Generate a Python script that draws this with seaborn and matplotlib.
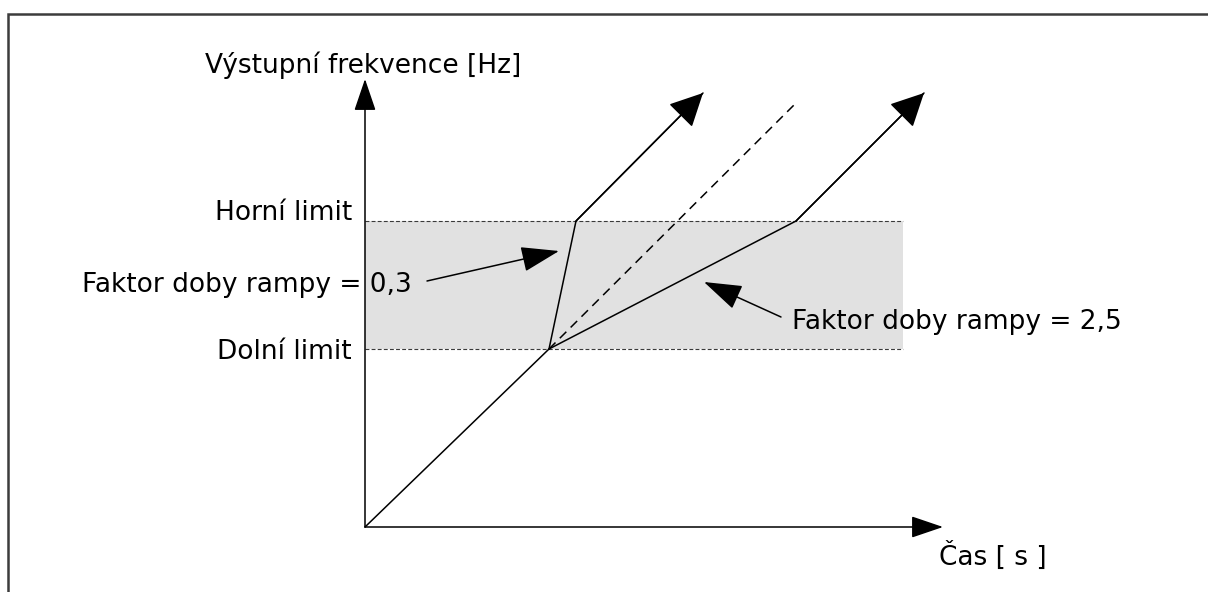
import pandas as pd
import matplotlib
matplotlib.use("Agg")
import matplotlib.pyplot as plt
import seaborn as sns
from matplotlib.patches import Rectangle

# ------------------------------------------------------------------
# Data (time / frequency in arbitrary diagram units)
# ------------------------------------------------------------------
dolni_limit = 17.8
horni_limit = 30.6
pasmo_konec = 53.8          # end of grey band on time axis
osa_cas_max = 57.8          # x axis arrow tip
osa_frekv_max = 44.8        # y axis arrow tip

zaklad_t = [0.0, 18.4]      # common ramp up to lower limit
zaklad_f = [0.0, 17.8]
nominal_t = [18.4, 43.1]    # dashed nominal ramp
nominal_f = [17.8, 42.4]
rychla_t = [18.4, 21.1, 33.8]   # ramp factor 0.3
rychla_f = [17.8, 30.6, 43.4]
pomala_t = [18.4, 43.1, 55.9]   # ramp factor 2.5
pomala_f = [17.8, 30.6, 43.4]

popisky_limitu = ["Horní limit", "Dolní limit"]
popisky_faktoru = ["Faktor doby rampy = 0,3", "Faktor doby rampy = 2,5"]
popisek_y = "Výstupní frekvence [Hz]"
popisek_x = "Čas [ s ]"

# ------------------------------------------------------------------
sns.set_theme(style="white")
plt.rcParams["font.family"] = ["DejaVu Sans"]
plt.rcParams["text.color"] = "black"
FS = 19
LW = 1.1

fig = plt.figure(figsize=(12.08, 5.92), dpi=100)
ax = fig.add_axes([0, 0, 1, 1])
ax.set_xlim(-36.5, 84.3)
ax.set_ylim(-6.5, 52.7)
ax.axis("off")

# grey band between limits + dotted limit lines
ax.fill_between([0, pasmo_konec], dolni_limit, horni_limit,
                color="#e1e1e1", lw=0, zorder=0)
for lim in (dolni_limit, horni_limit):
    ax.plot([0, pasmo_konec], [lim, lim], color="#3a3a3a",
            lw=0.8, ls=(0, (3.5, 2)), zorder=1)

# ramps
df_zaklad = pd.DataFrame({"t": zaklad_t, "f": zaklad_f})
df_nominal = pd.DataFrame({"t": nominal_t, "f": nominal_f})
df_rychla = pd.DataFrame({"t": rychla_t, "f": rychla_f})
df_pomala = pd.DataFrame({"t": pomala_t, "f": pomala_f})

sns.lineplot(data=df_zaklad, x="t", y="f", sort=False, estimator=None,
             color="black", lw=LW, ax=ax)
sns.lineplot(data=df_nominal, x="t", y="f", sort=False, estimator=None,
             color="black", lw=LW, ax=ax, linestyle=(0, (6, 4)))
sns.lineplot(data=df_rychla, x="t", y="f", sort=False, estimator=None,
             color="black", lw=LW, ax=ax)
sns.lineplot(data=df_pomala, x="t", y="f", sort=False, estimator=None,
             color="black", lw=LW, ax=ax)

# arrow heads on the ramps
hlava = dict(arrowstyle="-|>,head_length=21,head_width=10.5",
             mutation_scale=1, color="black", lw=LW,
             shrinkA=0, shrinkB=0)
for tt, ff in ((rychla_t, rychla_f), (pomala_t, pomala_f)):
    ax.annotate("", xy=(tt[-1], ff[-1]), xytext=(tt[-2], ff[-2]),
                arrowprops=hlava)

# axes with arrows
osa = dict(arrowstyle="-|>,head_length=20,head_width=6.8",
           mutation_scale=1, color="black", lw=LW, shrinkA=0, shrinkB=0)
ax.annotate("", xy=(osa_cas_max, 0), xytext=(0, 0), arrowprops=osa)
ax.annotate("", xy=(0, osa_frekv_max), xytext=(0, 0), arrowprops=osa)

# texts
ax.text(-16.0, 45.4, popisek_y, fontsize=FS, ha="left", va="baseline")
ax.text(57.4, -3.8, popisek_x, fontsize=FS, ha="left", va="baseline")
ax.text(-1.3, 30.7, popisky_limitu[0], fontsize=FS, ha="right", va="baseline")
ax.text(-1.3, 16.8, popisky_limitu[1], fontsize=FS, ha="right", va="baseline")
ax.text(4.7, 23.5, popisky_faktoru[0], fontsize=FS, ha="right", va="baseline")
ax.text(42.7, 19.8, popisky_faktoru[1], fontsize=FS, ha="left", va="baseline")

# annotation arrows
ukazatel = dict(arrowstyle="-|>,head_length=24,head_width=8",
                mutation_scale=1, color="black", lw=LW, shrinkA=0, shrinkB=0)
ax.annotate("", xy=(19.4, 27.6), xytext=(6.2, 24.6), arrowprops=ukazatel)
ax.annotate("", xy=(33.9, 24.5), xytext=(41.6, 21.0), arrowprops=ukazatel)

# outer frame (cut by the image edges on right and bottom)
fig.patches.append(Rectangle((8 / 1208, -0.1), 1.2, (592 - 14) / 592 + 0.1,
                             transform=fig.transFigure, fill=False,
                             edgecolor="#3c3c3c", lw=1.8))

fig.savefig("out.png", dpi=100)
